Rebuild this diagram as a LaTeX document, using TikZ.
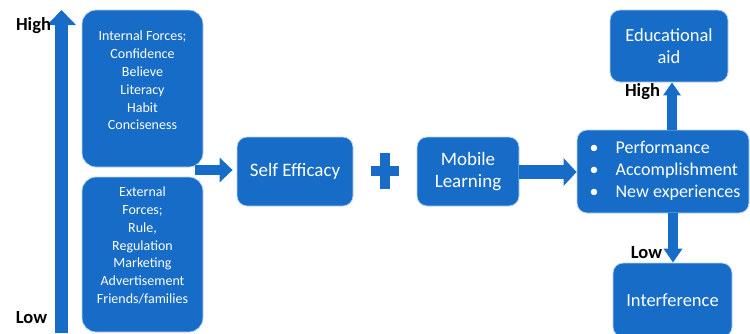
\documentclass[tikz,border=0pt]{standalone}
\usepackage{fontspec}
\setmainfont{Carlito}
\usepackage{tikz}
\usetikzlibrary{arrows.meta,positioning,calc}
\definecolor{boxblue}{RGB}{22,108,198}

\tikzset{
	bluebox/.style={fill=boxblue, draw=white!70!boxblue, line width=0.8pt, rounded corners=14pt, inner sep=0pt},
	smallbox/.style={bluebox, rounded corners=10pt, text=white, align=center},
	boxtext/.style={text=white, align=center, font=\fontsize{14}{17.8}\selectfont},
	lvl/.style={font=\fontsize{18.5}{22}\selectfont\bfseries, text=black, inner sep=0pt},
	fatarrow/.style={draw=boxblue, line width=#1},
}

\begin{document}
\begin{tikzpicture}[x=1pt, y=-1pt]
	\useasboundingbox (0,0) rectangle (750,333);

	% scale on the left
	\coordinate (low) at (61.5,333);
	\coordinate (high) at (61.5,10);
	\draw[fatarrow=13pt, -{Triangle[length=15pt, width=28pt]}] (low) -- (high);
	\node[lvl] (hightxt) at (33.5,26) {High};
	\node[lvl] (lowtxt) at (31.5,318) {Low};

	% forces
	\node[bluebox, minimum width=121pt, minimum height=157pt] (int) at (142.5,88.5) {};
	\node[boxtext] (inttxt) at ([yshift=8pt]int.center) {Internal Forces;\\Confidence\\Believe\\Literacy\\Habit\\Conciseness};
	\node[bluebox, minimum width=121pt, minimum height=155pt] (ext) at (142.5,254.5) {};
	\node[boxtext] (exttxt) at ([yshift=9pt]ext.center) {External\\Forces;\\Rule,\\Regulation\\Marketing\\Advertisement\\Friends/families};

	% middle row
	\node[smallbox, minimum width=116pt, minimum height=69pt, font=\fontsize{19}{22}\selectfont] (self) at (295,171.5) {Self Efficacy};
	\node[smallbox, minimum width=102pt, minimum height=69pt, font=\fontsize{19}{22}\selectfont] (mobile) at (468,171.5) {Mobile\\Learning};
	\coordinate (merge) at (195,170);
	\draw[fatarrow=10pt, -{Triangle[length=13pt, width=24pt]}, shorten >=4pt] (merge) -- (merge -| self.west);

	% plus sign
	\coordinate (plus) at (385,171);
	\fill[boxblue] ($(plus)+(-14,-5)$) rectangle ($(plus)+(14,5)$);
	\fill[boxblue] ($(plus)+(-5,-18)$) rectangle ($(plus)+(5,18)$);

	% outcomes
	\node[smallbox, minimum width=172pt, minimum height=83pt, font=\fontsize{18}{22}\selectfont] (result) at (663,171.5)
		{\raisebox{-3pt}{\begin{tabular}{@{\hspace{4pt}}l@{\hspace{17pt}}l@{}}\textbullet & Performance\\ \textbullet & Accomplishment\\ \textbullet & New experiences\end{tabular}}};
	\draw[fatarrow=14pt, -{Triangle[length=13pt, width=27pt]}] ([yshift=-0.5pt]mobile.east) -- ([yshift=-0.5pt]mobile.east -| result.west);

	\node[smallbox, minimum width=118pt, minimum height=72pt, font=\fontsize{18.5}{22}\selectfont] (edu) at (669,46) {Educational\\aid};
	\node[smallbox, minimum width=119pt, minimum height=74pt, font=\fontsize{18.5}{22}\selectfont] (interf) at (672.5,300) {Interference};

	\draw[fatarrow=10pt, -{Triangle[length=13pt, width=17pt]}] ([xshift=9pt]result.north) -- ([xshift=9pt]result.north |- edu.south);
	\node[lvl] (eduhigh) at (642.5,92) {High};
	\draw[fatarrow=10pt, -{Triangle[length=14pt, width=18pt]}] ([xshift=10pt]result.south) -- ([xshift=10pt]result.south |- interf.north);
	\node[lvl] (interflow) at (646.5,253) {Low};
\end{tikzpicture}
\end{document}
